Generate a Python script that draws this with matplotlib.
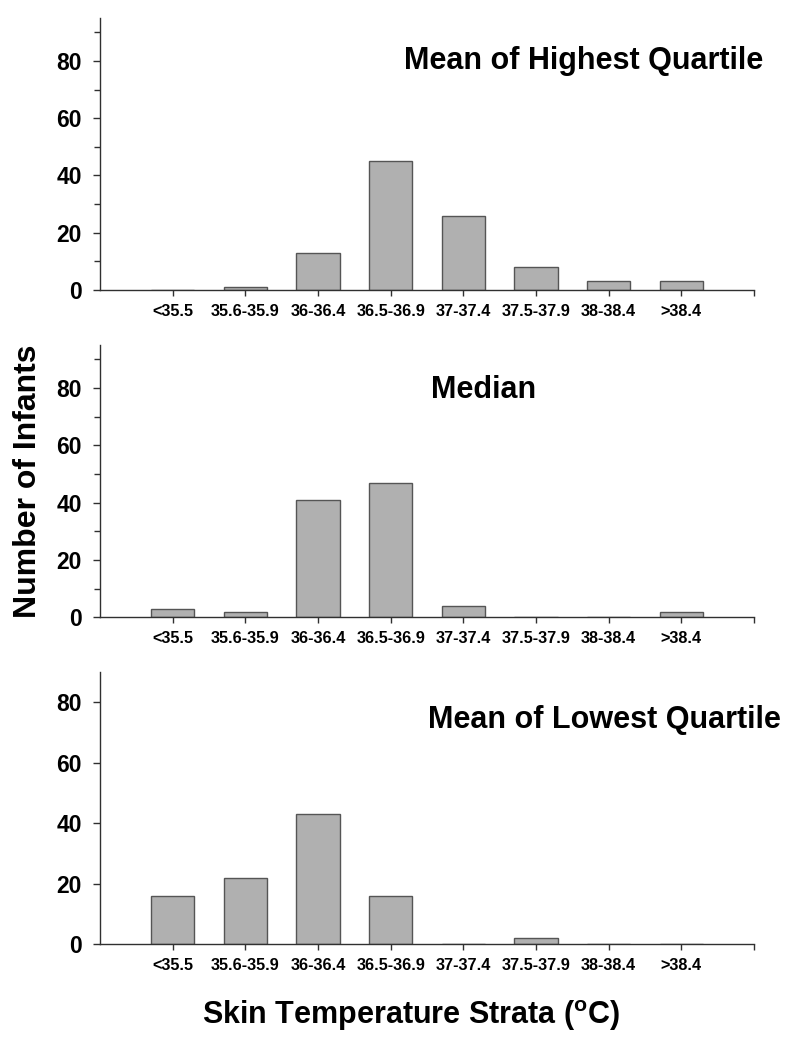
import numpy as np
import matplotlib.pyplot as plt
from matplotlib.ticker import MultipleLocator

plt.rcParams['font.family'] = ['Liberation Sans', 'DejaVu Sans']
plt.rcParams['font.weight'] = 'bold'

strata = ['<35.5', '35.6-35.9', '36-36.4', '36.5-36.9', '37-37.4',
          '37.5-37.9', '38-38.4', '>38.4']
highest = [0, 1, 13, 45, 26, 8, 3, 3]
median = [3, 2, 41, 47, 4, 0, 0, 2]
lowest = [16, 22, 43, 16, 0, 2, 0, 0]

titles = ['Mean of Highest Quartile', 'Median', 'Mean of Lowest Quartile']
series = [highest, median, lowest]
ymax = [95, 95, 90]
minor = [True, True, False]
# axes boxes in figure fraction
boxes = [[0.1236, 0.7238, 0.8084, 0.2591],
         [0.1236, 0.4121, 0.8084, 0.2593],
         [0.1236, 0.1010, 0.8084, 0.2587]]
title_pos = [(0.740, 0.842), (0.586, 0.834), (0.771, 0.823)]

fig = plt.figure(figsize=(8.09, 10.5), dpi=100)
x = np.arange(1, len(strata) + 1)
axis_col = '#303030'

for i in range(3):
    ax = fig.add_axes(boxes[i])
    ax.bar(x, series[i], width=0.6, color='#b0b0b0', edgecolor='#555555',
           linewidth=1.0, zorder=2)
    ax.set_xlim(0, 9)
    ax.set_ylim(0, ymax[i])
    ax.spines['top'].set_visible(False)
    ax.spines['right'].set_visible(False)
    for s in ['left', 'bottom']:
        ax.spines[s].set_color(axis_col)
        ax.spines[s].set_linewidth(1.0)
        ax.spines[s].set_zorder(3)
    ax.set_yticks([0, 20, 40, 60, 80])
    if minor[i]:
        ax.yaxis.set_minor_locator(MultipleLocator(10))
    ax.tick_params(axis='y', which='both', direction='out', color=axis_col,
                   labelsize=16.5, width=1.0, length=4, pad=8)
    ax.tick_params(axis='y', which='major', length=5)
    ax.set_xticks(list(x) + [9])
    ax.set_xticklabels(strata + [''])
    ax.tick_params(axis='x', direction='out', color=axis_col, labelsize=11.7,
                   width=1.0, length=4, pad=6)
    for lab in ax.get_yticklabels() + ax.get_xticklabels():
        lab.set_fontweight('bold')
    ax.text(title_pos[i][0], title_pos[i][1], titles[i], transform=ax.transAxes,
            ha='center', va='center', fontsize=22, fontweight='bold')

fig.text(0.035, 0.542, 'Number of Infants', rotation=90, ha='center',
         va='center', fontsize=23, fontweight='bold')
fig.text(0.508, 0.033, r'Skin Temperature Strata ($^{\mathregular{o}}$C)',
         ha='center', va='center', fontsize=22, fontweight='bold')

fig.savefig('out.png', dpi=100)
